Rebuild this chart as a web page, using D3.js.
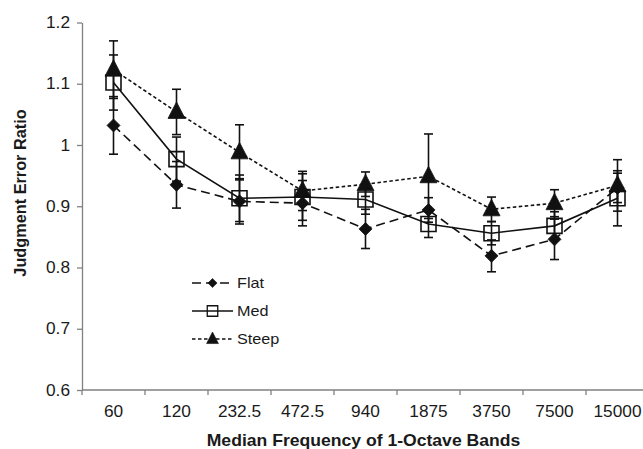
<!DOCTYPE html>
<html>
<head>
<meta charset="utf-8">
<script src="https://cdnjs.cloudflare.com/ajax/libs/d3/7.8.5/d3.min.js"></script>
<style>
	body { margin: 0; background: #fff; }
	svg { display: block; font-family: "Liberation Sans", Arial, sans-serif; }
</style>
</head>
<body>
<svg id="chart" width="643" height="449"></svg>
<script>

var bands = ["60", "120", "232.5", "472.5", "940", "1875", "3750", "7500", "15000"];

var flatValues = [1.032, 0.935, 0.908, 0.905, 0.863, 0.894, 0.819, 0.846, 0.930];
var flatErrors = [0.047, 0.038, 0.037, 0.037, 0.032, 0.020, 0.026, 0.033, 0.024];

var medValues = [1.102, 0.977, 0.913, 0.915, 0.911, 0.871, 0.856, 0.868, 0.913];
var medErrors = [0.045, 0.036, 0.038, 0.038, 0.024, 0.022, 0.019, 0.023, 0.045];

var steepValues = [1.123, 1.054, 0.988, 0.925, 0.936, 0.949, 0.895, 0.905, 0.934];
var steepErrors = [0.047, 0.037, 0.045, 0.032, 0.020, 0.069, 0.020, 0.022, 0.042];

var yTicks = [0.6, 0.7, 0.8, 0.9, 1.0, 1.1, 1.2];

var seriesNames = ["Flat", "Med", "Steep"];

function renderChart(element) {

	var svg = d3.select(element);
	var width = +svg.attr("width");

	var margin = { top: 22.5, bottom: 59, left: 82 };
	var plotBottom = 449 - margin.bottom;

	// the original figure is slightly stretched horizontally
	var stretch = 1.08;

	var xScale = d3.scaleBand()
		.domain(bands)
		.range([margin.left, margin.left + 63 * bands.length])
		.paddingInner(0)
		.paddingOuter(0);

	var yScale = d3.scaleLinear()
		.domain([0.6, 1.2])
		.range([plotBottom, margin.top]);

	var axisColor = "#808080";
	var textColor = "#1a1a1a";
	var ink = "#111";

	// y axis
	var yAxis = svg.append("g")
		.attr("transform", "translate(" + margin.left + ",0)")
		.call(d3.axisLeft(yScale).tickValues(yTicks).tickSize(5).tickSizeOuter(0).tickFormat(d3.format(".1~f")));

	yAxis.select(".domain").attr("stroke", axisColor).attr("stroke-width", 1.3);
	yAxis.selectAll(".tick line").attr("stroke", axisColor).attr("stroke-width", 1.3);
	yAxis.selectAll(".tick text")
		.attr("x", 0)
		.attr("transform", "translate(-12,0) scale(" + stretch + ",1)")
		.attr("fill", textColor)
		.attr("font-size", 16);

	// x axis - ticks sit between the bands
	var xAxis = svg.append("g");

	xAxis.append("line")
		.attr("x1", margin.left)
		.attr("x2", width)
		.attr("y1", plotBottom)
		.attr("y2", plotBottom)
		.attr("stroke", axisColor)
		.attr("stroke-width", 1.3);

	xAxis.selectAll(".xtick")
		.data(bands)
		.enter()
		.append("line")
		.attr("class", "xtick")
		.attr("x1", d => xScale(d))
		.attr("x2", d => xScale(d))
		.attr("y1", plotBottom)
		.attr("y2", plotBottom + 5)
		.attr("stroke", axisColor)
		.attr("stroke-width", 1.3);

	xAxis.selectAll(".xlabel")
		.data(bands)
		.enter()
		.append("text")
		.attr("class", "xlabel")
		.attr("transform", d => "translate(" + (xScale(d) + xScale.bandwidth() / 2) + "," + (plotBottom + 27) + ") scale(" + stretch + ",1)")
		.attr("text-anchor", "middle")
		.attr("fill", textColor)
		.attr("font-size", 16)
		.text(d => d);

	// axis titles
	svg.append("text")
		.attr("transform", "translate(" + (margin.left + 63 * bands.length / 2 - 2) + "," + (plotBottom + 56) + ") scale(1.1,1)")
		.attr("text-anchor", "middle")
		.attr("font-size", 16)
		.attr("font-weight", "bold")
		.attr("fill", textColor)
		.text("Median Frequency of 1-Octave Bands");

	svg.append("text")
		.attr("transform", "translate(26,193) rotate(-90)")
		.attr("text-anchor", "middle")
		.attr("font-size", 16.3)
		.attr("font-weight", "bold")
		.attr("fill", textColor)
		.text("Judgment Error Ratio");

	var series = [
		{ name: "Flat", values: flatValues, errors: flatErrors, dash: "9,5", marker: "diamond" },
		{ name: "Med", values: medValues, errors: medErrors, dash: null, marker: "square" },
		{ name: "Steep", values: steepValues, errors: steepErrors, dash: "3.5,2.5", marker: "triangle" }
	];

	var cx = d => xScale(d) + xScale.bandwidth() / 2;

	var line = d3.line()
		.x(d => cx(d[0]))
		.y(d => yScale(d[1]));

	// lines
	svg.selectAll(".series-line")
		.data(series)
		.enter()
		.append("path")
		.attr("class", "series-line")
		.attr("d", s => line(bands.map((b, i) => [b, s.values[i]])))
		.attr("fill", "none")
		.attr("stroke", ink)
		.attr("stroke-width", 1.6)
		.attr("stroke-dasharray", s => s.dash);

	// markers
	series.forEach(function(s) {

		svg.append("g")
			.attr("class", "markers-" + s.name)
			.selectAll("path")
			.data(bands.map((b, i) => [b, s.values[i]]))
			.enter()
			.append("path")
			.attr("d", d => markerPath(s.marker, cx(d[0]), yScale(d[1]), 1))
			.attr("fill", s.marker == "square" ? "none" : ink)
			.attr("stroke", ink)
			.attr("stroke-width", s.marker == "square" ? 1.6 : 0.8);

	});

	// error bars on top
	series.forEach(function(s) {

		var g = svg.append("g").attr("class", "errors-" + s.name);
		var data = bands.map((b, i) => [b, s.values[i], s.errors[i]]);
		var capHalf = 4.5;

		g.selectAll(".stem")
			.data(data)
			.enter()
			.append("line")
			.attr("x1", d => cx(d[0]))
			.attr("x2", d => cx(d[0]))
			.attr("y1", d => yScale(d[1] - d[2]))
			.attr("y2", d => yScale(d[1] + d[2]))
			.attr("stroke", ink)
			.attr("stroke-width", 1.6);

		[-1, 1].forEach(function(sign) {
			g.selectAll(".cap" + sign)
				.data(data)
				.enter()
				.append("line")
				.attr("x1", d => cx(d[0]) - capHalf)
				.attr("x2", d => cx(d[0]) + capHalf)
				.attr("y1", d => yScale(d[1] + sign * d[2]))
				.attr("y2", d => yScale(d[1] + sign * d[2]))
				.attr("stroke", ink)
				.attr("stroke-width", 1.6);
		});

	});

	drawLegend(svg, series, ink, textColor, stretch);

}

function markerPath(type, x, y, scale) {

	var p = d3.path();

	if (type == "diamond") {
		var r = 6.5 * scale;
		p.moveTo(x, y - r);
		p.lineTo(x + r, y);
		p.lineTo(x, y + r);
		p.lineTo(x - r, y);
		p.closePath();
	} else if (type == "square") {
		var h = 7.5 * scale;
		p.rect(x - h, y - h, 2 * h, 2 * h);
	} else {
		var w = 8.5 * scale;
		p.moveTo(x, y - 10 * scale);
		p.lineTo(x + w, y + 6.5 * scale);
		p.lineTo(x - w, y + 6.5 * scale);
		p.closePath();
	}

	return p.toString();

}

function drawLegend(svg, series, ink, textColor, stretch) {

	var legendX = 192;
	var legendY = 283;
	var rowStep = 28;

	var rows = svg.append("g")
		.attr("class", "legend")
		.selectAll("g")
		.data(series)
		.enter()
		.append("g")
		.attr("transform", (d, i) => "translate(" + legendX + "," + (legendY + i * rowStep) + ")");

	rows.append("line")
		.attr("x1", 0)
		.attr("x2", 41)
		.attr("y1", 0)
		.attr("y2", 0)
		.attr("stroke", ink)
		.attr("stroke-width", 1.6)
		.attr("stroke-dasharray", d => d.name == "Flat" ? "9,5" : d.dash);

	rows.append("path")
		.attr("d", d => markerPath(d.marker, 20.5, 0, 0.7))
		.attr("fill", d => d.marker == "square" ? "none" : ink)
		.attr("stroke", ink)
		.attr("stroke-width", d => d.marker == "square" ? 1.3 : 0.6);

	rows.append("text")
		.attr("transform", "translate(45,0) scale(" + stretch + ",1)")
		.attr("dominant-baseline", "central")
		.attr("font-size", 15)
		.attr("fill", textColor)
		.text(d => d.name);

}

renderChart("#chart");

</script>
</body>
</html>
